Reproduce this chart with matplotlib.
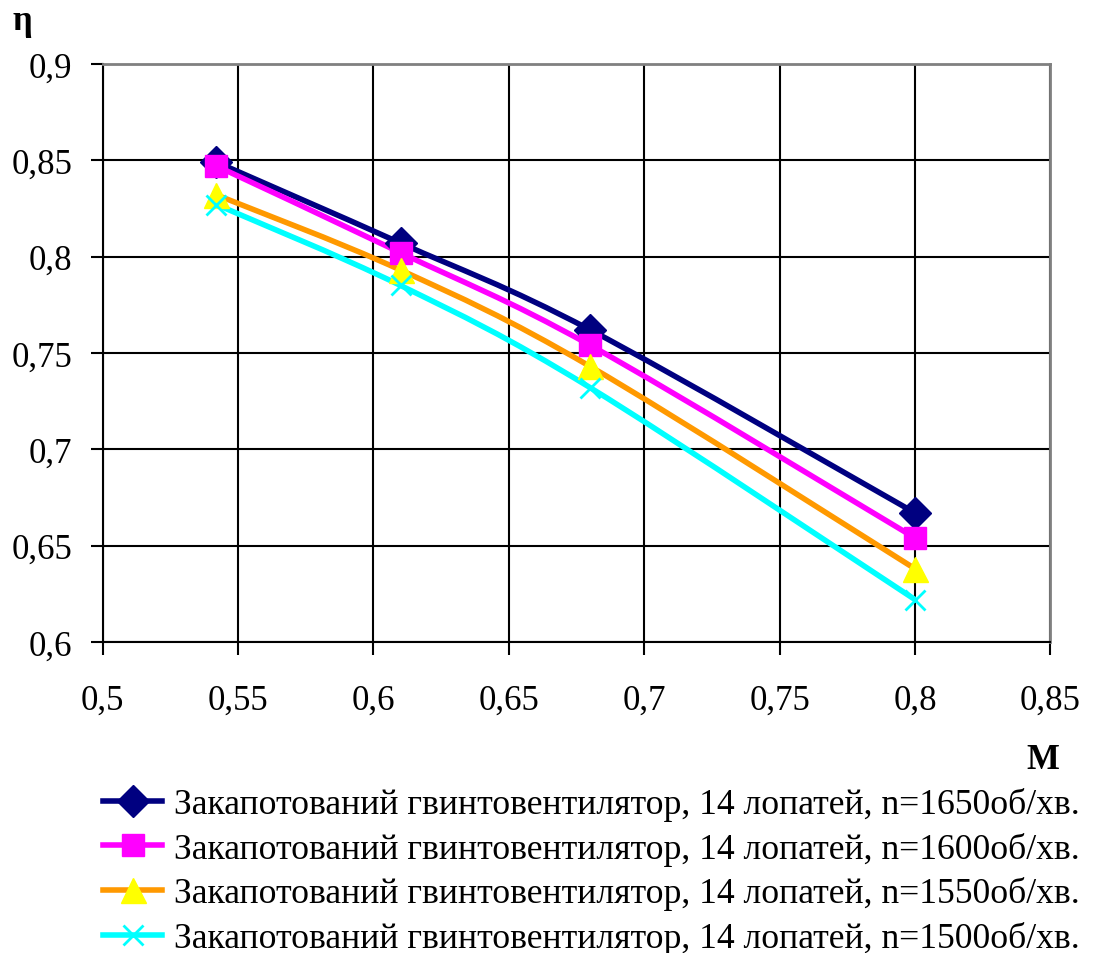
import numpy as np
import matplotlib.pyplot as plt
from matplotlib.path import Path
from matplotlib.patches import PathPatch
from matplotlib.lines import Line2D

plt.rcParams["font.family"] = ["Liberation Serif", "DejaVu Serif"]

mach = [0.542, 0.61, 0.68, 0.8]
eta_1650 = [0.849, 0.807, 0.762, 0.667]
eta_1600 = [0.847, 0.802, 0.754, 0.654]
eta_1550 = [0.832, 0.793, 0.743, 0.638]
eta_1500 = [0.827, 0.785, 0.732, 0.622]
labels = [
    "Закапотований гвинтовентилятор, 14 лопатей, n=1650об/хв.",
    "Закапотований гвинтовентилятор, 14 лопатей, n=1600об/хв.",
    "Закапотований гвинтовентилятор, 14 лопатей, n=1550об/хв.",
    "Закапотований гвинтовентилятор, 14 лопатей, n=1500об/хв.",
]
x_ticks = [0.5, 0.55, 0.6, 0.65, 0.7, 0.75, 0.8, 0.85]
y_ticks = [0.6, 0.65, 0.7, 0.75, 0.8, 0.85, 0.9]


def smooth_path(x, y):
    # excel-like bezier smoothing through the points
    p = np.column_stack([x, y])
    n = len(p)
    verts = [p[0]]
    codes = [Path.MOVETO]
    for i in range(n - 1):
        p0 = p[i - 1] if i > 0 else p[i]
        p3 = p[i + 2] if i + 2 < n else p[i + 1]
        c1 = p[i] + (p[i + 1] - p0) / 6
        c2 = p[i + 1] - (p3 - p[i]) / 6
        verts += [c1, c2, p[i + 1]]
        codes += [Path.CURVE4] * 3
    return Path(verts, codes)


fig = plt.figure(figsize=(10.93, 9.54), dpi=100)
ax = fig.add_axes([0.094, 0.326, 0.867, 0.606])

series = [
    (eta_1650, "#000080", "#000080", "D", 16),
    (eta_1600, "#ff00ff", "#ff00ff", "s", 16),
    (eta_1550, "#ff9900", "#ffff00", "^", 18),
    (eta_1500, "#00ffff", "#00ffff", "x", 15),
]

handles = []
for (vals, lc, mc, mk, ms), lab in zip(series, labels):
    patch = PathPatch(smooth_path(mach, vals), facecolor="none", edgecolor=lc,
                      lw=4, transform=ax.transData, zorder=3)
    ax.add_patch(patch)
    mew = 2 if mk == "x" else 1
    ax.plot(mach, vals, linestyle="none", marker=mk, markersize=ms,
            color=mc, markeredgecolor=mc, markeredgewidth=mew,
            zorder=4, clip_on=False)
    handles.append(Line2D([], [], color=lc, lw=4, marker=mk, markersize=ms,
                          markerfacecolor=mc, markeredgecolor=mc,
                          markeredgewidth=mew))

ax.set_xlim(0.5, 0.85)
ax.set_ylim(0.6, 0.9)
ax.set_xticks(x_ticks)
ax.set_yticks(y_ticks)
ax.set_xticklabels([f"{t:g}".replace(".", ",") for t in x_ticks])
ax.set_yticklabels([f"{t:g}".replace(".", ",") for t in y_ticks])
ax.tick_params(direction="out", length=9, width=1.5, labelsize=25)
ax.tick_params(axis="y", pad=13)
ax.tick_params(axis="x", pad=21)
ax.grid(True, color="black", lw=1.5)
ax.set_axisbelow(True)
for side in ["left", "bottom"]:
    ax.spines[side].set_color("black")
    ax.spines[side].set_linewidth(1.5)
for side in ["top", "right"]:
    ax.spines[side].set_color("#808080")
    ax.spines[side].set_linewidth(2)

fig.text(0.02, 0.977, "η", fontsize=25, fontweight="bold", va="center", ha="center")
fig.text(0.954, 0.203, "M", fontsize=25, fontweight="bold", va="center", ha="center")

fig.legend(handles, labels, loc="upper left", bbox_to_anchor=(0.094, 0.174),
           frameon=False, fontsize=25.7, handlelength=1.67, handletextpad=0.33,
           labelspacing=0.3, borderaxespad=0, borderpad=0)

fig.savefig("out.png", dpi=100)
